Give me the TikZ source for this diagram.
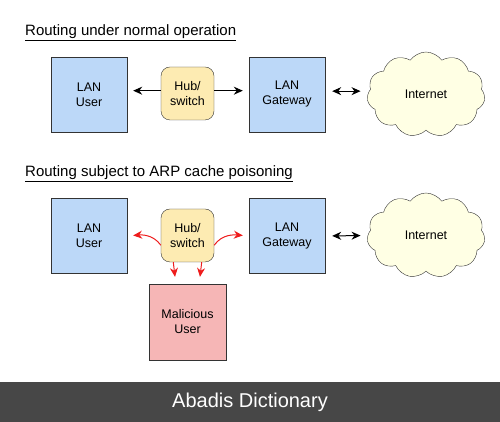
\documentclass[tikz,border=0pt]{standalone}
\usepackage{fontspec}
\setmainfont{Liberation Sans}
\usetikzlibrary{arrows.meta,shapes.symbols}
\definecolor{lanblue}{HTML}{BCD8F8}
\definecolor{hubyellow}{HTML}{FDEBB2}
\definecolor{evilred}{HTML}{F6B6B6}
\definecolor{cloudyellow}{HTML}{FFFFE4}
\definecolor{edgegray}{HTML}{333333}
\definecolor{footgray}{HTML}{474747}
\definecolor{arpred}{HTML}{EE1C1C}
\begin{document}
\begin{tikzpicture}[x=1pt,y=1pt,
  box/.style={draw=edgegray, fill=lanblue, minimum width=76pt, minimum height=75pt, inner sep=0pt, align=center, font=\fontsize{12.5}{15}\selectfont},
  hubbox/.style={draw=edgegray, fill=hubyellow, rounded corners=9pt, minimum width=53pt, minimum height=53pt, inner sep=0pt, align=center, font=\fontsize{12.5}{15}\selectfont},
  net/.style={cloud, cloud puffs=11, cloud puff arc=110, aspect=1.4, draw=edgegray, fill=cloudyellow, minimum width=118pt, minimum height=85pt, inner sep=0pt, font=\fontsize{12.5}{15}\selectfont},
  title/.style={anchor=base west, inner sep=0pt, font=\fontsize{15}{18}\selectfont},
  arr/.style={-{Stealth[length=9pt,width=8pt]}, line width=1pt},
  darr/.style={{Stealth[length=9pt,width=8pt]}-{Stealth[length=9pt,width=8pt]}, line width=1pt},
  redarr/.style={-{Stealth[length=9pt,width=8pt]}, line width=1pt, arpred}]
\useasboundingbox (0,0) rectangle (500,422);
\begin{scope}
\node[title] (t1) at (25,386) {\underline{Routing under normal operation}};
\node[box] (u1) at (89,327.5) {LAN\\User};
\node[hubbox] (h1) at (187.5,328.5) {Hub/\\switch};
\node[box] (g1) at (287,327.5) {LAN\\Gateway};
\node[net] (i1) at (426,327.5) {Internet};
\path[draw,arr,shorten >=6pt] (h1.174) -- (h1.174 -| u1.east);
\path[draw,arr,shorten >=6pt] (h1.6) -- (h1.6 -| g1.west);
\path[draw,darr,shorten >=7pt,shorten <=7pt] (g1.5) -- (g1.5 -| i1.west);
\end{scope}
\begin{scope}[yshift=-141pt]
\node[title] (t2) at (25,386) {\underline{Routing subject to ARP cache poisoning}};
\node[box] (u2) at (89,327) {LAN\\User};
\node[hubbox] (h2) at (187.5,327.5) {Hub/\\switch};
\node[box] (g2) at (287,327) {LAN\\Gateway};
\node[net] (i2) at (426,327.5) {Internet};
\node[box, fill=evilred, minimum width=77pt, minimum height=76pt] (m2) at (187.5,241) {Malicious\\User};
\path[draw,darr,shorten >=7pt,shorten <=7pt] (g2.east) -- (i2.west);
\path[draw,redarr,shorten >=6pt] (h2.200) to[out=125,in=5] (u2.east);
\path[draw,redarr,shorten >=6pt] (h2.-20) to[out=55,in=175] (g2.west);
\path[draw,redarr,shorten >=7pt] (h2.-118) -- (m2.107);
\path[draw,redarr,shorten >=7pt] (h2.-62) -- (m2.73);
\end{scope}
\fill[footgray] (0,0) rectangle (500,40);
\node[text=white, font=\fontsize{20}{24}\selectfont] (foot) at (250,20) {Abadis Dictionary};
\end{tikzpicture}
\end{document}
